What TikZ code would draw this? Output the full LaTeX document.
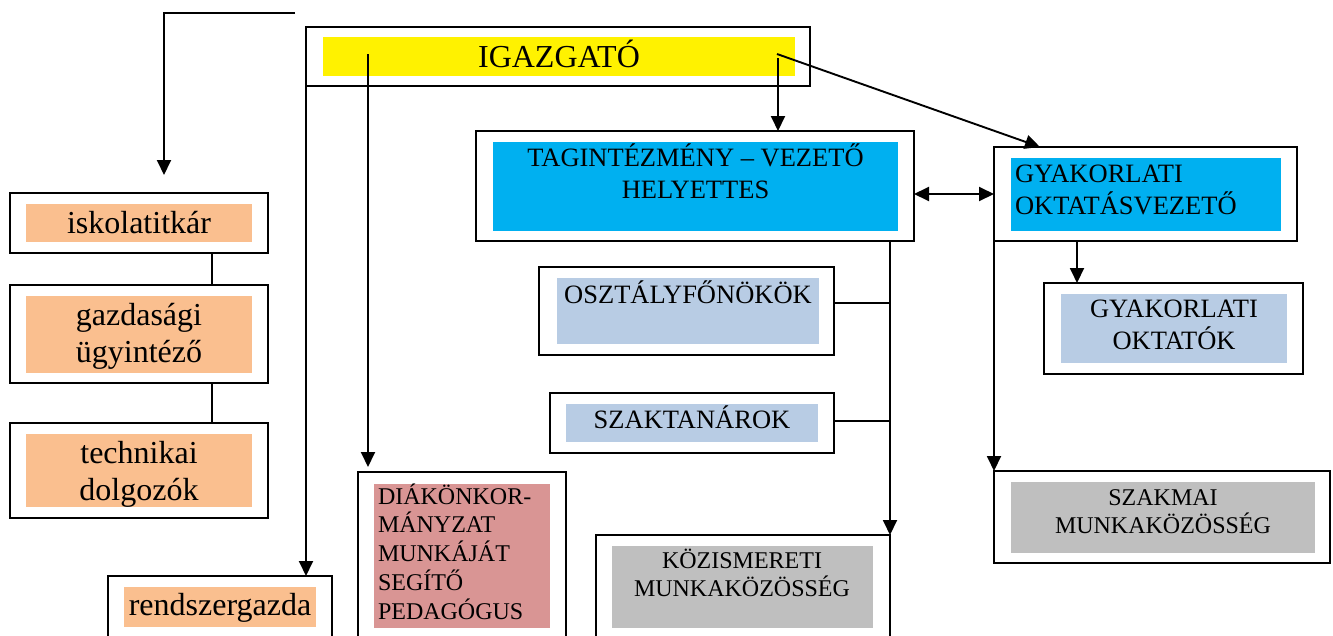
\documentclass[tikz,border=0pt]{standalone}
\usepackage{fontspec}
\setmainfont{Liberation Serif}
\usetikzlibrary{arrows.meta,fit}
\definecolor{cyanbox}{RGB}{0,176,240}
\definecolor{lblue}{RGB}{184,204,228}
\definecolor{peach}{RGB}{250,191,143}
\definecolor{rose}{RGB}{217,149,148}
\definecolor{gbox}{RGB}{191,191,191}
\newcommand{\mylines}[2]{\begin{tabular}[t]{@{}#1@{}}#2\end{tabular}}
\begin{document}
\begin{tikzpicture}[x=1pt,y=-1pt,
  obox/.style={draw=black,line width=1.9pt,inner sep=0pt,outer sep=0pt,fill=white},
  ibox/.style={inner sep=0pt,outer sep=0pt,draw=none},
  lbl/.style={anchor=base,inner sep=0pt,outer sep=0pt},
  big/.style={font=\fontsize{32}{37}\selectfont},
  mid/.style={font=\fontsize{26.5}{32}\selectfont},
  sml/.style={font=\fontsize{24}{27.5}\selectfont},
  conn/.style={line width=1.9pt},
  arr/.style={conn,-{Triangle[length=15pt,width=14pt]}},
  darr/.style={conn,{Triangle[length=15pt,width=14pt]}-{Triangle[length=15pt,width=14pt]}}]
\clip (0,0) rectangle (1333,635);
% IGAZGATO
\node[obox,fit={(306,27)(810,86)}] (ig) {};
\node[ibox,fill=yellow,fit={(323,37)(795,76)}] (igi) {};
\node[lbl,font=\fontsize{32}{36}\selectfont] (igt) at (559,67) {IGAZGATÓ};
% Tagintezmeny
\node[obox,fit={(476,131)(914,241)}] (tag) {};
\node[ibox,fill=cyanbox,fit={(493,142)(898,231)}] (tagi) {};
\node[lbl,mid] (tagt) at (695.5,166) {\mylines{c}{TAGINTÉZMÉNY – VEZETŐ\\HELYETTES}};
% Gyakorlati oktatasvezeto
\node[obox,fit={(994,147)(1297,241)}] (gyak) {};
\node[ibox,fill=cyanbox,fit={(1011,158)(1281,231)}] (gyaki) {};
\node[lbl,mid,anchor=base west] (gyakt) at (1015,182) {\mylines{l}{GYAKORLATI\\OKTATÁSVEZETŐ}};
% Gyakorlati oktatok
\node[obox,fit={(1044,283)(1303,374)}] (gyo) {};
\node[ibox,fill=lblue,fit={(1061,294)(1287,363)}] (gyoi) {};
\node[lbl,mid] (gyot) at (1174,317) {\mylines{c}{GYAKORLATI\\OKTATÓK}};
% Osztalyfonokok
\node[obox,fit={(539,267)(834,355)}] (oszt) {};
\node[ibox,fill=lblue,fit={(557,278)(819,344)}] (oszti) {};
\node[lbl,mid] (osztt) at (688,303) {OSZTÁLYFŐNÖKÖK};
% Szaktanarok
\node[obox,fit={(550,393)(834,453)}] (szak) {};
\node[ibox,fill=lblue,fit={(566,404)(818,442)}] (szaki) {};
\node[lbl,mid] (szakt) at (692,428) {SZAKTANÁROK};
% Kozismereti
\node[obox,fit={(596,535)(890,645)}] (koz) {};
\node[ibox,fill=gbox,fit={(612,546)(873,628)}] (kozi) {};
\node[lbl,sml] (kozt) at (742,568) {\mylines{c}{KÖZISMERETI\\MUNKAKÖZÖSSÉG}};
% Diakonkormanyzat
\node[obox,fit={(358,472)(566,645)}] (diak) {};
\node[ibox,fill=rose,fit={(374,484)(550,628)}] (diaki) {};
\node[lbl,sml,anchor=base west] (diakt) at (378,504) {\mylines{l}{DIÁKÖNKOR-\\MÁNYZAT\\MUNKÁJÁT\\SEGÍTŐ\\PEDAGÓGUS}};
% Szakmai munkakozosseg
\node[obox,fit={(994,471)(1330,563)}] (szm) {};
\node[ibox,fill=gbox,fit={(1011,482)(1315,553)}] (szmi) {};
\node[lbl,sml] (szmt) at (1163,505) {\mylines{c}{SZAKMAI\\MUNKAKÖZÖSSÉG}};
% Left column
\node[obox,fit={(10,193)(268,253)}] (isk) {};
\node[ibox,fill=peach,fit={(26,204)(252,242)}] (iski) {};
\node[lbl,big] (iskt) at (139,233) {iskolatitkár};
\node[obox,fit={(10,285)(268,383)}] (gaz) {};
\node[ibox,fill=peach,fit={(26,296)(252,373)}] (gazi) {};
\node[lbl,big] (gazt) at (139,325) {\mylines{c}{gazdasági\\ügyintéző}};
\node[obox,fit={(10,423)(268,518)}] (tech) {};
\node[ibox,fill=peach,fit={(26,434)(252,507)}] (techi) {};
\node[lbl,big] (techt) at (139,463) {\mylines{c}{technikai\\dolgozók}};
\node[obox,fit={(108,576)(332,645)}] (rsz) {};
\node[ibox,fill=peach,fit={(124,587)(316,627)}] (rszi) {};
\node[lbl,big] (rszt) at (220,615) {rendszergazda};
% Connectors
\coordinate (s1) at (295,13);
\coordinate (c1) at (164,13);
\draw[arr,shorten >=18pt] (s1) -- (c1) -- (c1 |- isk.north);
\coordinate (s2) at (306,58);
\draw[arr] (s2) -- (s2 |- rsz.north);
\coordinate (s3) at (368,54);
\draw[arr,shorten >=5pt] (s3) -- (s3 |- diak.north);
\coordinate (s4) at (778,58);
\draw[arr] (s4) -- (s4 |- tag.north);
\coordinate (s5) at (777,54);
\draw[arr] (s5) -- ([xshift=46pt]gyak.north west);
\draw[darr] (tag.east |- gyak.west) -- (gyak.west);
\coordinate (g1) at ([xshift=83pt]gyak.south west);
\draw[arr] (g1) -- (g1 |- gyo.north);
\draw[arr] (gyak.south west) -- (szm.north west);
\coordinate (t1) at ([xshift=-24pt]tag.south east);
\draw[arr] (t1) -- (t1 |- koz.north);
\coordinate (o1) at ([yshift=8pt]oszt.east);
\draw[conn] (o1) -- (o1 -| t1);
\coordinate (k1) at ([yshift=2pt]szak.east);
\draw[conn] (k1) -- (k1 -| t1);
\coordinate (i1) at ([xshift=-56pt]isk.south east);
\draw[conn] (i1) -- (i1 |- gaz.north);
\coordinate (i2) at ([xshift=-56pt]gaz.south east);
\draw[conn] (i2) -- (i2 |- tech.north);
\end{tikzpicture}
\end{document}
